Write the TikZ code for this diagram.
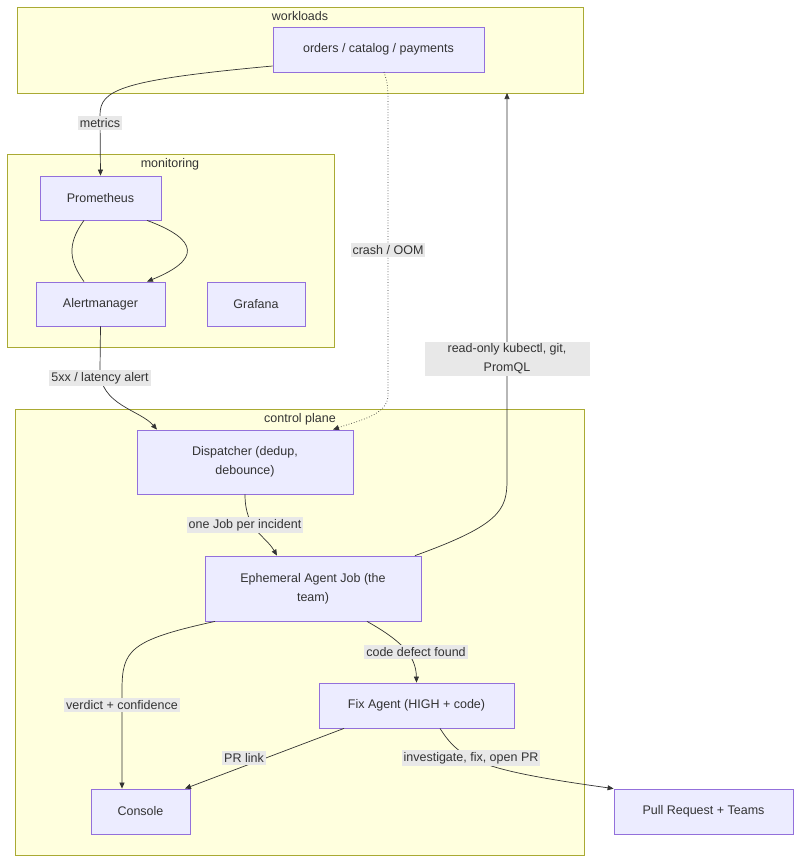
\documentclass[tikz,border=0pt]{standalone}
\usepackage{fontspec}
\setmainfont{Liberation Sans}
\usetikzlibrary{arrows.meta,positioning}
\definecolor{clusterfill}{HTML}{FFFFDE}
\definecolor{clusterline}{HTML}{AAAA33}
\definecolor{boxfill}{HTML}{ECECFF}
\definecolor{boxline}{HTML}{9370DB}
\definecolor{edgelabel}{HTML}{E8E8E8}
\definecolor{ink}{HTML}{333333}
\tikzset{
    cluster/.style={draw=clusterline, fill=clusterfill, line width=0.8pt},
    clustertitle/.style={font=\fontsize{12.5}{15}\selectfont, text=ink},
    box/.style={draw=boxline, fill=boxfill, line width=0.8pt, font=\fontsize{12.5}{19}\selectfont,
        text=ink, align=center, inner sep=0pt},
    flow/.style={draw=ink, line width=0.7pt, -{Triangle[length=6pt,width=5pt]}},
    tag/.style={fill=edgelabel, text=ink, font=\fontsize{12.5}{19}\selectfont, inner sep=2pt, align=center},
}
\begin{document}
\begin{tikzpicture}[x=1pt, y=-1pt]
	\useasboundingbox (0,0) rectangle (800,862);
	% clusters
	\draw[cluster] (17,7) rectangle (583,93);
	\node[clustertitle] (twork) at (300,16) {workloads};
	\draw[cluster] (7,154) rectangle (334,347);
	\node[clustertitle] (tmon) at (170,164) {monitoring};
	\draw[cluster] (15,409) rectangle (584,855);
	\node[clustertitle] (tctl) at (300,419) {control plane};
	% nodes
	\node[box, minimum width=211pt, minimum height=45pt] (orders) at (378.5,49.5) {orders / catalog / payments};
	\node[box, minimum width=121pt, minimum height=44pt] (prom) at (100.5,198) {Prometheus};
	\node[box, minimum width=129pt, minimum height=44pt] (alert) at (100.5,304) {Alertmanager};
	\node[box, minimum width=98pt, minimum height=44pt] (graf) at (256,304) {Grafana};
	\node[box, minimum width=216pt, minimum height=64pt] (disp) at (245,462) {Dispatcher (dedup,\\debounce)};
	\node[box, minimum width=216pt, minimum height=65pt] (agent) at (313,588.5) {Ephemeral Agent Job (the\\team)};
	\node[box, minimum width=195pt, minimum height=45pt] (fix) at (416.5,705.5) {Fix Agent (HIGH + code)};
	\node[box, minimum width=99pt, minimum height=45pt] (console) at (140.5,811.5) {Console};
	\node[box, minimum width=179pt, minimum height=45pt] (pr) at (703.5,811.5) {Pull Request + Teams};
	% edges
	\draw[flow] (orders.west |- 0,66) .. controls (120,80) and (100,90) .. (100,115) -- (prom.north);
	\node[tag] (lmetrics) at (100,123) {metrics};
	\draw[draw=ink, line width=0.7pt, dotted, -{Triangle[length=6pt,width=5pt]}]
		(384,72) .. controls (388,85) .. (388,110) -- (388,395) .. controls (388,415) and (360,420) .. (disp.north -| 333,0);
	\node[tag] (lcrash) at (388,250) {crash / OOM};
	\draw[draw=ink, line width=0.7pt] (prom.south -| 84,0) .. controls (66,245) and (70,262) .. (alert.north -| 84,0);
	\draw[flow] (prom.south -| 147,0) .. controls (200,240) and (200,260) .. (alert.north -| 147,0);
	\draw[flow] (alert.south) -- (100,370) .. controls (100,405) and (140,410) .. (disp.north -| 157,0);
	\node[tag] (lalert) at (100,378) {5xx / latency alert};
	\draw[flow] (disp.south) .. controls (245,530) and (265,535) .. (agent.north -| 277,0);
	\node[tag] (ljob) at (245,525) {one Job per incident};
	\draw[flow] (agent.north -| 415,0) .. controls (500,525) and (507,510) .. (507,480) -- (507,93);
	\node[tag, minimum width=165pt] (lread) at (507,359) {read-only kubectl, git,\\PromQL};
	\draw[flow] (agent.south -| 215,0) .. controls (130,640) and (122,650) .. (122,690) -- (console.north -| 122,0);
	\node[tag] (lverdict) at (122,705) {verdict + confidence};
	\draw[flow] (agent.south -| 367,0) .. controls (400,640) and (416,655) .. (fix.north);
	\node[tag] (ldefect) at (416,652) {code defect found};
	\draw[flow] (fix.south -| 344,0) -- (console.north -| 185,0);
	\node[tag] (lprlink) at (244,758) {PR link};
	\draw[flow] (fix.south -| 440,0) .. controls (460,760) and (480,770) .. (pr.north west);
	\node[tag] (linv) at (471,758) {investigate, fix, open PR};
\end{tikzpicture}
\end{document}
